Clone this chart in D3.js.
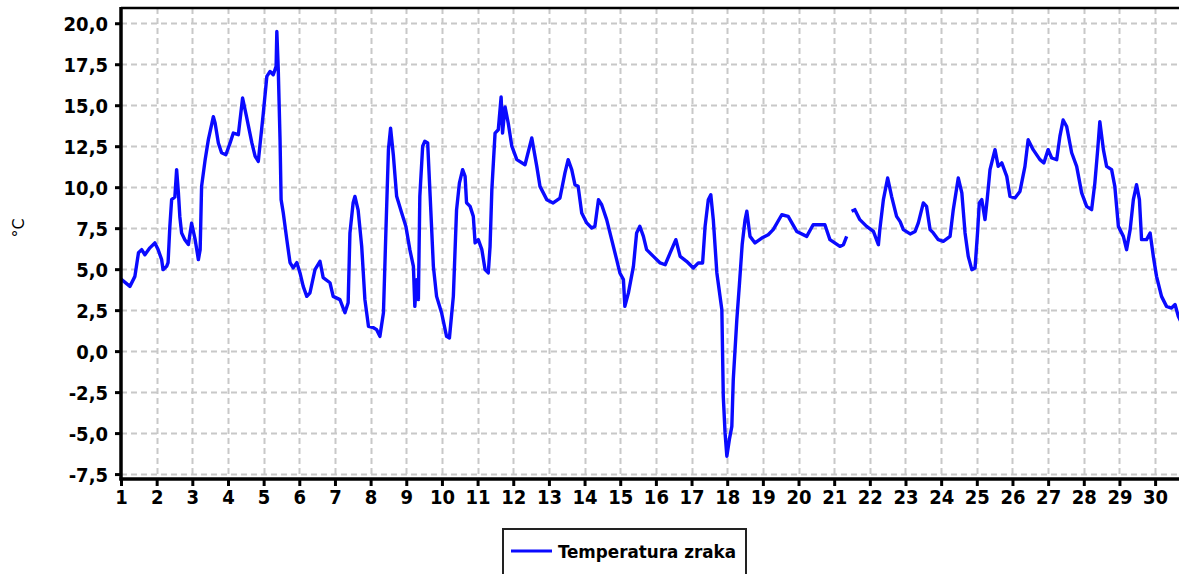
<!DOCTYPE html>
<html>
<head>
<meta charset="utf-8">
<script src="https://cdn.jsdelivr.net/npm/d3@7"></script>
<style>
  html, body { margin: 0; padding: 0; background: #ffffff; }
  svg { display: block; }
  .lbl { font-family: "DejaVu Sans Condensed", "DejaVu Sans", sans-serif; font-stretch: condensed; font-weight: bold; fill: #000; }
</style>
</head>
<body>
<svg id="chart" width="1179" height="574"></svg>
<script>
const seriesName = "Temperatura zraka";
const yTitle = "°C";
const xTicks = d3.range(1, 31);
const yTicks = [-7.5, -5, -2.5, 0, 2.5, 5, 7.5, 10, 12.5, 15, 17.5, 20];

const days = [1.00,1.25,1.39,1.49,1.58,1.67,1.81,1.95,2.04,2.14,
  2.18,2.28,2.32,2.37,2.42,2.51,2.56,2.61,2.65,2.70,
  2.79,2.89,2.98,3.08,3.17,3.22,3.26,3.36,3.45,3.59,
  3.64,3.73,3.82,3.94,4.06,4.15,4.29,4.41,4.52,4.67,
  4.76,4.85,4.99,5.09,5.18,5.27,5.35,5.37,5.41,5.46,
  5.49,5.55,5.65,5.74,5.83,5.93,6.02,6.11,6.21,6.30,
  6.44,6.58,6.67,6.86,6.95,7.14,7.28,7.37,7.42,7.51,
  7.56,7.65,7.75,7.84,7.94,8.08,8.17,8.26,8.36,8.43,
  8.50,8.56,8.64,8.73,8.87,8.99,9.10,9.20,9.24,9.29,
  9.34,9.38,9.46,9.52,9.60,9.67,9.76,9.85,9.99,10.13,
  10.21,10.32,10.41,10.49,10.58,10.65,10.69,10.79,10.88,10.93,
  11.02,11.12,11.21,11.30,11.35,11.40,11.49,11.58,11.66,11.70,
  11.77,11.86,11.96,12.10,12.33,12.52,12.66,12.75,12.94,13.12,
  13.31,13.45,13.54,13.64,13.73,13.82,13.92,14.06,14.20,14.29,
  14.39,14.48,14.62,14.76,14.90,14.99,15.09,15.13,15.23,15.37,
  15.46,15.55,15.65,15.74,15.93,16.12,16.26,16.40,16.56,16.68,
  16.86,17.05,17.19,17.31,17.38,17.47,17.54,17.61,17.71,17.85,
  17.89,17.94,17.99,18.06,18.13,18.17,18.27,18.34,18.42,18.50,
  18.55,18.64,18.78,18.97,19.15,19.29,19.53,19.71,19.95,20.23,
  20.41,20.74,20.88,21.16,21.26,21.35,21.42,21.49,21.58,21.72,
  21.91,22.10,22.24,22.28,22.38,22.50,22.61,22.75,22.85,22.94,
  23.13,23.27,23.36,23.50,23.59,23.69,23.78,23.92,24.06,24.25,
  24.34,24.48,24.58,24.67,24.76,24.86,24.95,25.02,25.07,25.14,
  25.23,25.29,25.37,25.51,25.60,25.70,25.84,25.93,26.07,26.21,
  26.35,26.44,26.58,26.77,26.88,27.00,27.10,27.24,27.33,27.42,
  27.52,27.66,27.80,27.94,28.08,28.22,28.31,28.39,28.45,28.55,
  28.64,28.78,28.87,28.97,29.11,29.20,29.30,29.39,29.48,29.56,
  29.62,29.76,29.86,29.95,30.04,30.18,30.32,30.46,30.56,30.65,
  30.72];

const temps = [4.4,3.95,4.56,6.0,6.19,5.88,6.3,6.6,6.2,5.58,
  4.97,5.17,5.4,7.6,9.24,9.4,11.07,9.66,8.2,7.2,
  6.8,6.5,7.8,6.8,5.58,6.19,10.05,11.68,12.9,14.3,
  13.9,12.7,12.1,11.98,12.7,13.3,13.2,15.44,14.3,12.7,
  11.9,11.57,14.5,16.76,17.06,16.86,17.37,19.5,17.2,12.9,
  9.24,8.44,6.8,5.4,5.08,5.4,4.77,3.95,3.34,3.56,
  4.97,5.48,4.48,4.17,3.34,3.14,2.34,2.95,7.2,9.05,
  9.44,8.6,6.39,3.14,1.51,1.43,1.31,0.9,2.34,7.4,
  12.3,13.6,11.9,9.44,8.44,7.6,6.19,5.17,2.73,4.36,
  3.14,9.44,12.5,12.8,12.7,9.44,5.17,3.34,2.34,0.9,
  0.8,3.34,8.6,10.25,11.07,10.66,9.05,8.83,8.22,6.6,
  6.8,6.19,4.97,4.77,6.39,9.85,13.3,13.5,15.5,13.3,
  14.9,13.9,12.5,11.68,11.37,13.0,11.27,10.05,9.24,9.04,
  9.34,10.87,11.68,11.07,10.15,10.05,8.43,7.82,7.51,7.61,
  9.24,8.93,8.02,6.8,5.58,4.77,4.36,2.73,3.55,5.17,
  7.21,7.61,7.0,6.19,5.78,5.38,5.27,5.99,6.8,5.78,
  5.48,5.07,5.38,5.38,7.61,9.24,9.54,8.02,4.77,2.53,
  -2.76,-4.99,-6.41,-5.4,-4.59,-1.74,1.92,4.0,6.5,8.0,
  8.53,7.0,6.6,6.9,7.1,7.41,8.32,8.22,7.3,7.0,
  7.71,7.71,6.8,6.39,6.49,7.0,null,8.53,8.63,8.02,
  7.61,7.3,6.49,7.41,9.24,10.56,9.44,8.22,7.9,7.41,
  7.15,7.3,7.82,9.04,8.83,7.41,7.21,6.8,6.7,7.0,
  8.63,10.56,9.65,7.21,5.78,4.97,5.07,7.21,9.04,9.24,
  8.02,9.24,11.07,12.29,11.27,11.48,10.66,9.44,9.34,9.74,
  11.27,12.9,12.29,11.68,11.48,12.29,11.78,11.68,13.1,14.1,
  13.7,12.1,11.27,9.65,8.83,8.63,10.25,12.29,14.0,12.29,
  11.27,11.07,10.05,7.61,7.0,6.19,7.41,9.24,10.15,9.24,
  6.8,6.8,7.21,5.78,4.56,3.34,2.73,2.63,2.84,2.12,
  1.8];

const svg = d3.select("#chart");
const pLeft = 121, pRight = 1179, pTop = 8, pBottom = 479;

const x = d3.scaleLinear().domain([1, 30.67]).range([pLeft, pRight]);
const y = d3.scaleLinear().domain([-7.8, 20.93]).range([pBottom, pTop]);
const fmt = v => d3.format(".1f")(v).replace(".", ",").replace("−", "-");

svg.append("defs").append("clipPath").attr("id", "clip")
  .append("rect").attr("x", pLeft).attr("y", pTop).attr("width", pRight - pLeft).attr("height", pBottom - pTop);

// grid
const grid = svg.append("g");
grid.selectAll("line.h").data(yTicks).join("line")
  .attr("x1", pLeft).attr("x2", pRight)
  .attr("y1", d => Math.round(y(d)) + 0.5).attr("y2", d => Math.round(y(d)) + 0.5)
  .attr("stroke", "#c8c8c8").attr("stroke-width", 2).attr("stroke-dasharray", "6,4");
grid.selectAll("line.v").data(xTicks.slice(1)).join("line")
  .attr("y1", pTop).attr("y2", pBottom)
  .attr("x1", d => Math.round(x(d)) + 0.5).attr("x2", d => Math.round(x(d)) + 0.5)
  .attr("stroke", "#c8c8c8").attr("stroke-width", 2).attr("stroke-dasharray", "6,4");

// top frame
svg.append("line").attr("x1", pLeft).attr("x2", pRight).attr("y1", pTop).attr("y2", pTop)
  .attr("stroke", "#000").attr("stroke-width", 2.5);

// series
const data = days.map((d, i) => ({ d, t: temps[i] }));
const line = d3.line().defined(p => p.t !== null).x(p => x(p.d)).y(p => y(p.t));
svg.append("path").datum(data).attr("clip-path", "url(#clip)")
  .attr("d", line).attr("fill", "none").attr("stroke", "#0a0aff")
  .attr("stroke-width", 3.4).attr("stroke-linejoin", "round");

// axes
const yAxis = d3.axisLeft(y).tickValues(yTicks).tickFormat(fmt).tickSize(6).tickPadding(7);
const gy = svg.append("g").attr("transform", `translate(${pLeft},0)`).call(yAxis);
gy.select(".domain").remove();
gy.selectAll(".tick line").attr("stroke", "#000").attr("stroke-width", 3);
gy.selectAll(".tick text").attr("class", "lbl").style("font-size", "20px").attr("dy", "0.36em");
svg.append("line").attr("x1", pLeft).attr("x2", pLeft).attr("y1", pTop - 1).attr("y2", pBottom + 1.5)
  .attr("stroke", "#000").attr("stroke-width", 3.5);

const xAxis = d3.axisBottom(x).tickValues(xTicks).tickFormat(d3.format("d")).tickSize(7).tickPadding(4);
const gx = svg.append("g").attr("transform", `translate(0,${pBottom})`).call(xAxis);
gx.select(".domain").remove();
gx.selectAll(".tick line").attr("stroke", "#000").attr("stroke-width", 3);
gx.selectAll(".tick text").attr("class", "lbl").style("font-size", "20px");
svg.append("line").attr("x1", pLeft - 1.5).attr("x2", pRight).attr("y1", pBottom).attr("y2", pBottom)
  .attr("stroke", "#000").attr("stroke-width", 3.5);

// y title
svg.append("text").attr("transform", "translate(24,228) rotate(-90)")
  .attr("text-anchor", "middle")
  .style("font-family", "'DejaVu Sans', sans-serif").style("font-size", "16px").text(yTitle);

// legend
const lg = svg.append("g");
lg.append("rect").attr("x", 503).attr("y", 529).attr("width", 243).attr("height", 60)
  .attr("fill", "#fff").attr("stroke", "#222").attr("stroke-width", 2);
lg.append("line").attr("x1", 511).attr("x2", 552).attr("y1", 551).attr("y2", 551)
  .attr("stroke", "#0a0aff").attr("stroke-width", 3);
lg.append("text").attr("class", "lbl").attr("x", 558).attr("y", 558)
  .style("font-size", "18px").attr("textLength", 178).attr("lengthAdjust", "spacingAndGlyphs")
  .text(seriesName);
</script>
</body>
</html>
